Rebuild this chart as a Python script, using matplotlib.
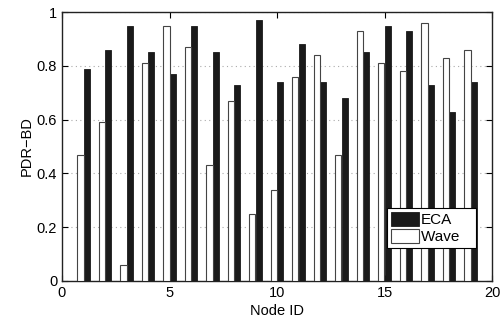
import numpy as np
import matplotlib
matplotlib.use('Agg')
import matplotlib.pyplot as plt

plt.rcParams['font.family'] = ['Liberation Sans', 'DejaVu Sans']

# node ids and PDR-BD per scheme
nodes = np.arange(1, 20)
eca = [0.79, 0.86, 0.95, 0.85, 0.77, 0.95, 0.85, 0.73, 0.97, 0.74,
       0.88, 0.74, 0.68, 0.85, 0.95, 0.93, 0.73, 0.63, 0.74]
wave = [0.47, 0.59, 0.06, 0.81, 0.95, 0.87, 0.43, 0.67, 0.25, 0.34,
        0.76, 0.84, 0.47, 0.93, 0.81, 0.78, 0.96, 0.83, 0.86]

fig = plt.figure(figsize=(5, 3.2), dpi=100)
ax = fig.add_axes([0.124, 0.122, 0.86, 0.84])

w = 0.28
ax.bar(nodes + w / 2, eca, w, color='#1a1a1a', edgecolor='#1a1a1a', linewidth=0.6, label='ECA', zorder=3)
ax.bar(nodes - w / 2, wave, w, color='white', edgecolor='#444444', linewidth=0.8, label='Wave   ', zorder=3)

ax.set_xlim(0, 20)
ax.set_ylim(0, 1)
ax.set_xticks([0, 5, 10, 15, 20])
ax.set_yticks([0, 0.2, 0.4, 0.6, 0.8, 1])
ax.set_yticklabels(['0', '0.2', '0.4', '0.6', '0.8', '1'])
ax.yaxis.grid(True, linestyle=(0, (1, 3)), color='#aaaaaa', linewidth=0.8, zorder=0)
ax.tick_params(direction='in', top=True, right=True, labelsize=10.5, length=4)
for s in ax.spines.values():
    s.set_linewidth(1.0)
    s.set_color('#222222')

ax.set_xlabel('Node ID', fontsize=10.5, labelpad=3)
ax.set_ylabel('PDR\u2212BD', fontsize=10.5, labelpad=2)

leg = ax.legend(loc='lower right', bbox_to_anchor=(0.963, 0.123), fontsize=11,
                fancybox=False, framealpha=1, edgecolor='black',
                handlelength=1.85, handleheight=1.05, handletextpad=0.15,
                borderpad=0.25, labelspacing=0.12, borderaxespad=0)
leg.get_frame().set_linewidth(0.8)

fig.savefig('out.png', dpi=100)
